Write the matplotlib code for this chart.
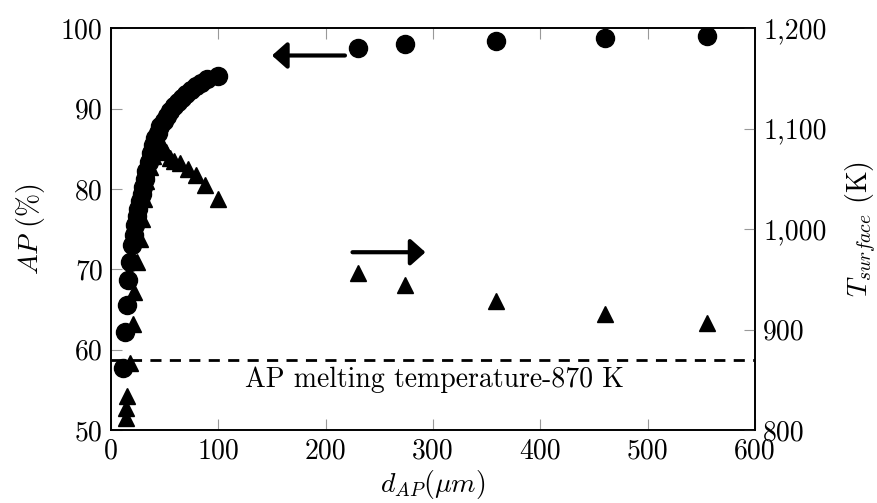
import matplotlib
matplotlib.use('Agg')
import matplotlib.pyplot as plt
from matplotlib.ticker import FuncFormatter

plt.rcParams['font.family'] = 'serif'
plt.rcParams['font.serif'] = ['cmr10', 'DejaVu Serif']
plt.rcParams['mathtext.fontset'] = 'cm'
plt.rcParams['axes.unicode_minus'] = False

# AP (%) vs d_AP
d_ap = [11, 13, 15, 16, 17.7, 19.6, 21, 22.5, 24, 25.5, 27, 28.5, 30, 31.5, 33, 35, 37, 39,
        41, 43.5, 46, 49, 52, 55, 58.5, 62, 66, 70, 74.5, 79, 84, 89.5, 100,
        230, 274, 359, 460, 555]
ap = [57.7, 62.2, 65.5, 68.7, 70.9, 73.0, 74.3, 75.5, 76.6, 77.5, 78.5, 79.4, 80.3, 81.2, 82.2, 83.3, 84.5, 85.5,
      86.3, 87.0, 87.8, 88.5, 89.1, 89.7, 90.3, 90.8, 91.3, 91.8, 92.3, 92.8, 93.2, 93.7, 94.1,
      97.5, 98.0, 98.4, 98.8, 99.0]

# T_surface (K) vs d_AP
d_t = [14, 14, 14.5, 17.5, 20.5, 21, 24, 27, 28.5, 30.5, 33, 36, 39.5, 43, 47.5, 51, 55, 59,
       64, 72, 79, 88, 100, 230, 274, 359, 460, 555]
t_surf = [812, 822, 834, 867, 906, 937, 967, 990, 1010, 1030, 1048, 1062, 1073, 1080, 1084, 1077, 1071, 1068,
          1066, 1060, 1054, 1044, 1030, 956, 944, 928, 916, 907]

t_melt = 870
fs = 20

fig = plt.figure(figsize=(8.78, 5.03), dpi=100)
ax = fig.add_axes([0.1264, 0.145, 0.7335, 0.799])
ax2 = ax.twinx()

ax.plot(d_ap, ap, 'o', color='black', markersize=13, zorder=3)
ax2.plot(d_t, t_surf, '^', color='black', markersize=11, zorder=2)
ax2.axhline(t_melt, color='black', linestyle=(0, (4, 3)), linewidth=2)
ax2.text(301, 850, 'AP melting temperature-870 K', ha='center', va='center', fontsize=fs)

ax.annotate('', xy=(150, 96.6), xytext=(218, 96.6),
            arrowprops=dict(arrowstyle='-|>,head_length=0.45,head_width=0.4', lw=3, color='black',
                            mutation_scale=20, shrinkA=0, shrinkB=0))
ax2.annotate('', xy=(293, 977), xytext=(225, 977),
             arrowprops=dict(arrowstyle='-|>,head_length=0.45,head_width=0.4', lw=3, color='black',
                             mutation_scale=20, shrinkA=0, shrinkB=0))

ax.set_xlim(0, 600)
ax.set_ylim(50, 100)
ax2.set_ylim(800, 1200)
ax.set_xticks([0, 100, 200, 300, 400, 500, 600])
ax.set_yticks([50, 60, 70, 80, 90, 100])
ax2.set_yticks([800, 900, 1000, 1100, 1200])
ax2.yaxis.set_major_formatter(FuncFormatter(lambda v, p: '{:,}'.format(int(v))))

ax.tick_params(axis='x', direction='in', top=True, length=8, width=0.8, color='#999999',
               labelsize=fs, pad=6)
ax.tick_params(axis='y', direction='in', right=False, length=8, width=0.8, color='#999999',
               labelsize=fs, pad=6)
ax2.tick_params(axis='y', direction='in', length=8, width=0.8, color='#999999', labelsize=fs, pad=6)

for a in (ax, ax2):
    for s in a.spines.values():
        s.set_linewidth(1.2)

ax.set_xlabel(r'$d_{AP} (\mu m)$', fontsize=fs, labelpad=2)
ax.set_ylabel(r'$AP$ (%)', fontsize=fs, labelpad=10)
ax2.set_ylabel(r'$T_{surface}$ (K)', fontsize=fs, labelpad=12)

fig.savefig('out.png', dpi=100)
